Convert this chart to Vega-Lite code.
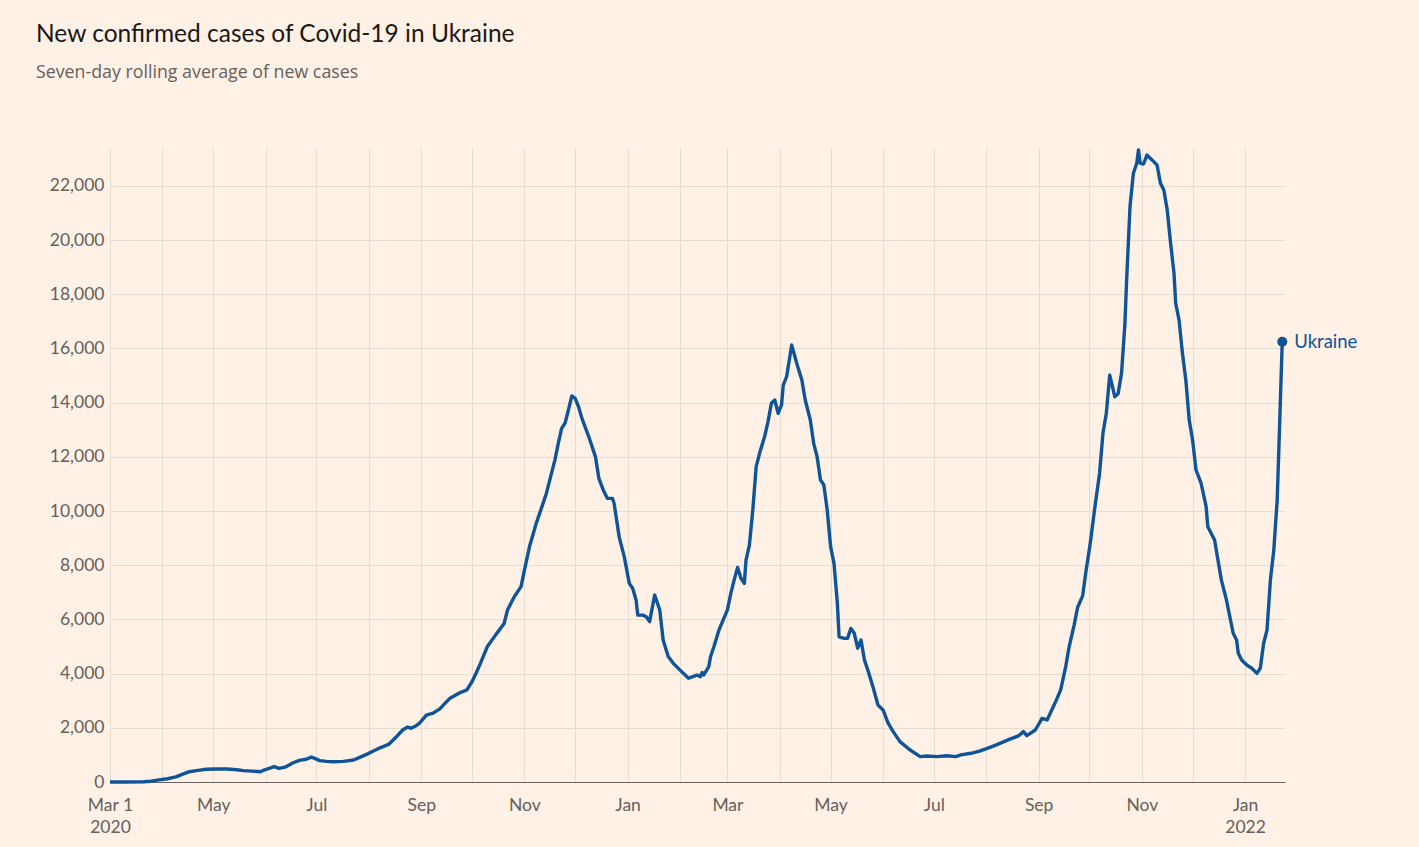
{
  "$schema": "https://vega.github.io/schema/vega-lite/v6.json",
  "width": 1175,
  "height": 634,
  "autosize": {"type": "none"},
  "padding": {"left": 110, "top": 148, "right": 134, "bottom": 65},
  "background": "#fff1e5",
  "title": {
    "text": "New confirmed cases of Covid-19 in Ukraine",
    "subtitle": "Seven-day rolling average of new cases",
    "anchor": "start",
    "frame": "group",
    "dx": -74,
    "offset": 65,
    "font": "Lato",
    "fontSize": 24.5,
    "fontWeight": "normal",
    "color": "#1a1817",
    "subtitleFont": "Open Sans",
    "subtitleFontSize": 17.8,
    "subtitleColor": "#66605c",
    "subtitlePadding": 17
  },
  "config": {
    "view": {"stroke": null},
    "font": "Lato"
  },
  "datasets": {
    "cases": [
      {"date": "2020-03-01", "cases": 0},
      {"date": "2020-03-11", "cases": 0},
      {"date": "2020-03-21", "cases": 10},
      {"date": "2020-03-25", "cases": 30},
      {"date": "2020-03-30", "cases": 80},
      {"date": "2020-04-04", "cases": 120},
      {"date": "2020-04-09", "cases": 190},
      {"date": "2020-04-13", "cases": 290},
      {"date": "2020-04-17", "cases": 380},
      {"date": "2020-04-22", "cases": 430},
      {"date": "2020-04-27", "cases": 470},
      {"date": "2020-05-03", "cases": 480},
      {"date": "2020-05-09", "cases": 480},
      {"date": "2020-05-15", "cases": 450},
      {"date": "2020-05-19", "cases": 420},
      {"date": "2020-05-24", "cases": 400},
      {"date": "2020-05-29", "cases": 380},
      {"date": "2020-05-31", "cases": 440},
      {"date": "2020-06-04", "cases": 520},
      {"date": "2020-06-06", "cases": 570},
      {"date": "2020-06-09", "cases": 500},
      {"date": "2020-06-13", "cases": 560},
      {"date": "2020-06-17", "cases": 700},
      {"date": "2020-06-21", "cases": 800},
      {"date": "2020-06-25", "cases": 840},
      {"date": "2020-06-28", "cases": 920},
      {"date": "2020-06-30", "cases": 870},
      {"date": "2020-07-03", "cases": 790},
      {"date": "2020-07-07", "cases": 760},
      {"date": "2020-07-11", "cases": 750},
      {"date": "2020-07-17", "cases": 760},
      {"date": "2020-07-23", "cases": 810},
      {"date": "2020-07-27", "cases": 920},
      {"date": "2020-07-31", "cases": 1030},
      {"date": "2020-08-04", "cases": 1150},
      {"date": "2020-08-08", "cases": 1270},
      {"date": "2020-08-13", "cases": 1400},
      {"date": "2020-08-17", "cases": 1650},
      {"date": "2020-08-21", "cases": 1920},
      {"date": "2020-08-24", "cases": 2030},
      {"date": "2020-08-26", "cases": 1980},
      {"date": "2020-08-29", "cases": 2080},
      {"date": "2020-08-31", "cases": 2170},
      {"date": "2020-09-04", "cases": 2470},
      {"date": "2020-09-08", "cases": 2540},
      {"date": "2020-09-12", "cases": 2700},
      {"date": "2020-09-15", "cases": 2900},
      {"date": "2020-09-18", "cases": 3090},
      {"date": "2020-09-23", "cases": 3270},
      {"date": "2020-09-28", "cases": 3400},
      {"date": "2020-10-01", "cases": 3700},
      {"date": "2020-10-04", "cases": 4100},
      {"date": "2020-10-06", "cases": 4380},
      {"date": "2020-10-10", "cases": 4990},
      {"date": "2020-10-15", "cases": 5430},
      {"date": "2020-10-20", "cases": 5850},
      {"date": "2020-10-22", "cases": 6350},
      {"date": "2020-10-26", "cases": 6840},
      {"date": "2020-10-30", "cases": 7210},
      {"date": "2020-11-01", "cases": 7820},
      {"date": "2020-11-04", "cases": 8690},
      {"date": "2020-11-08", "cases": 9550},
      {"date": "2020-11-11", "cases": 10100},
      {"date": "2020-11-14", "cases": 10660},
      {"date": "2020-11-16", "cases": 11150},
      {"date": "2020-11-19", "cases": 11880},
      {"date": "2020-11-21", "cases": 12500},
      {"date": "2020-11-23", "cases": 13050},
      {"date": "2020-11-25", "cases": 13240},
      {"date": "2020-11-27", "cases": 13730},
      {"date": "2020-11-29", "cases": 14250},
      {"date": "2020-12-01", "cases": 14160},
      {"date": "2020-12-03", "cases": 13850},
      {"date": "2020-12-05", "cases": 13420},
      {"date": "2020-12-09", "cases": 12750},
      {"date": "2020-12-13", "cases": 12000},
      {"date": "2020-12-15", "cases": 11210},
      {"date": "2020-12-18", "cases": 10720},
      {"date": "2020-12-20", "cases": 10470},
      {"date": "2020-12-23", "cases": 10470},
      {"date": "2020-12-24", "cases": 10290},
      {"date": "2020-12-27", "cases": 9050},
      {"date": "2020-12-30", "cases": 8320},
      {"date": "2021-01-02", "cases": 7330},
      {"date": "2021-01-04", "cases": 7150},
      {"date": "2021-01-06", "cases": 6720},
      {"date": "2021-01-07", "cases": 6160},
      {"date": "2021-01-10", "cases": 6160},
      {"date": "2021-01-12", "cases": 6100},
      {"date": "2021-01-14", "cases": 5920},
      {"date": "2021-01-17", "cases": 6900},
      {"date": "2021-01-20", "cases": 6350},
      {"date": "2021-01-22", "cases": 5240},
      {"date": "2021-01-25", "cases": 4630},
      {"date": "2021-01-28", "cases": 4380},
      {"date": "2021-02-01", "cases": 4130},
      {"date": "2021-02-06", "cases": 3830},
      {"date": "2021-02-09", "cases": 3900},
      {"date": "2021-02-11", "cases": 3950},
      {"date": "2021-02-13", "cases": 3890},
      {"date": "2021-02-14", "cases": 4040},
      {"date": "2021-02-15", "cases": 3950},
      {"date": "2021-02-18", "cases": 4260},
      {"date": "2021-02-19", "cases": 4620},
      {"date": "2021-02-21", "cases": 4990},
      {"date": "2021-02-24", "cases": 5610},
      {"date": "2021-03-01", "cases": 6350},
      {"date": "2021-03-03", "cases": 6960},
      {"date": "2021-03-05", "cases": 7460},
      {"date": "2021-03-07", "cases": 7920},
      {"date": "2021-03-09", "cases": 7520},
      {"date": "2021-03-11", "cases": 7330},
      {"date": "2021-03-12", "cases": 8190},
      {"date": "2021-03-14", "cases": 8750},
      {"date": "2021-03-16", "cases": 10040},
      {"date": "2021-03-18", "cases": 11640},
      {"date": "2021-03-20", "cases": 12130},
      {"date": "2021-03-23", "cases": 12750},
      {"date": "2021-03-25", "cases": 13300},
      {"date": "2021-03-27", "cases": 13980},
      {"date": "2021-03-29", "cases": 14100},
      {"date": "2021-03-31", "cases": 13610},
      {"date": "2021-04-02", "cases": 13920},
      {"date": "2021-04-03", "cases": 14650},
      {"date": "2021-04-05", "cases": 14960},
      {"date": "2021-04-08", "cases": 16130},
      {"date": "2021-04-11", "cases": 15450},
      {"date": "2021-04-14", "cases": 14840},
      {"date": "2021-04-16", "cases": 14100},
      {"date": "2021-04-19", "cases": 13360},
      {"date": "2021-04-21", "cases": 12500},
      {"date": "2021-04-23", "cases": 12010},
      {"date": "2021-04-25", "cases": 11150},
      {"date": "2021-04-27", "cases": 10960},
      {"date": "2021-04-29", "cases": 10040},
      {"date": "2021-05-01", "cases": 8690},
      {"date": "2021-05-03", "cases": 8070},
      {"date": "2021-05-05", "cases": 6600},
      {"date": "2021-05-06", "cases": 5360},
      {"date": "2021-05-09", "cases": 5300},
      {"date": "2021-05-11", "cases": 5300},
      {"date": "2021-05-13", "cases": 5670},
      {"date": "2021-05-15", "cases": 5490},
      {"date": "2021-05-17", "cases": 4940},
      {"date": "2021-05-19", "cases": 5240},
      {"date": "2021-05-21", "cases": 4500},
      {"date": "2021-05-23", "cases": 4130},
      {"date": "2021-05-26", "cases": 3520},
      {"date": "2021-05-29", "cases": 2840},
      {"date": "2021-06-01", "cases": 2660},
      {"date": "2021-06-04", "cases": 2170},
      {"date": "2021-06-07", "cases": 1860},
      {"date": "2021-06-11", "cases": 1490},
      {"date": "2021-06-17", "cases": 1180},
      {"date": "2021-06-23", "cases": 935},
      {"date": "2021-06-27", "cases": 960},
      {"date": "2021-07-03", "cases": 935},
      {"date": "2021-07-09", "cases": 970},
      {"date": "2021-07-14", "cases": 935},
      {"date": "2021-07-17", "cases": 1000},
      {"date": "2021-07-23", "cases": 1060},
      {"date": "2021-07-28", "cases": 1140},
      {"date": "2021-08-02", "cases": 1250},
      {"date": "2021-08-07", "cases": 1370},
      {"date": "2021-08-15", "cases": 1580},
      {"date": "2021-08-20", "cases": 1700},
      {"date": "2021-08-23", "cases": 1860},
      {"date": "2021-08-25", "cases": 1710},
      {"date": "2021-08-30", "cases": 1920},
      {"date": "2021-09-03", "cases": 2350},
      {"date": "2021-09-06", "cases": 2290},
      {"date": "2021-09-11", "cases": 2960},
      {"date": "2021-09-14", "cases": 3400},
      {"date": "2021-09-17", "cases": 4260},
      {"date": "2021-09-19", "cases": 4990},
      {"date": "2021-09-22", "cases": 5800},
      {"date": "2021-09-24", "cases": 6440},
      {"date": "2021-09-27", "cases": 6870},
      {"date": "2021-09-29", "cases": 7800},
      {"date": "2021-10-01", "cases": 8600},
      {"date": "2021-10-02", "cases": 9050},
      {"date": "2021-10-04", "cases": 10040},
      {"date": "2021-10-07", "cases": 11390},
      {"date": "2021-10-09", "cases": 12870},
      {"date": "2021-10-11", "cases": 13610},
      {"date": "2021-10-13", "cases": 15020},
      {"date": "2021-10-16", "cases": 14220},
      {"date": "2021-10-18", "cases": 14340},
      {"date": "2021-10-20", "cases": 15090},
      {"date": "2021-10-22", "cases": 16930},
      {"date": "2021-10-23", "cases": 18530},
      {"date": "2021-10-25", "cases": 21240},
      {"date": "2021-10-27", "cases": 22470},
      {"date": "2021-10-29", "cases": 22840},
      {"date": "2021-10-30", "cases": 23330},
      {"date": "2021-10-31", "cases": 22840},
      {"date": "2021-11-02", "cases": 22810},
      {"date": "2021-11-04", "cases": 23140},
      {"date": "2021-11-07", "cases": 22960},
      {"date": "2021-11-10", "cases": 22770},
      {"date": "2021-11-12", "cases": 22100},
      {"date": "2021-11-14", "cases": 21850},
      {"date": "2021-11-16", "cases": 21110},
      {"date": "2021-11-18", "cases": 19880},
      {"date": "2021-11-20", "cases": 18780},
      {"date": "2021-11-21", "cases": 17670},
      {"date": "2021-11-23", "cases": 17050},
      {"date": "2021-11-25", "cases": 15820},
      {"date": "2021-11-27", "cases": 14840},
      {"date": "2021-11-29", "cases": 13360},
      {"date": "2021-12-01", "cases": 12620},
      {"date": "2021-12-03", "cases": 11520},
      {"date": "2021-12-06", "cases": 11030},
      {"date": "2021-12-09", "cases": 10160},
      {"date": "2021-12-10", "cases": 9420},
      {"date": "2021-12-14", "cases": 8930},
      {"date": "2021-12-16", "cases": 8190},
      {"date": "2021-12-18", "cases": 7460},
      {"date": "2021-12-21", "cases": 6720},
      {"date": "2021-12-23", "cases": 6100},
      {"date": "2021-12-25", "cases": 5490},
      {"date": "2021-12-27", "cases": 5240},
      {"date": "2021-12-28", "cases": 4750},
      {"date": "2021-12-30", "cases": 4500},
      {"date": "2022-01-02", "cases": 4320},
      {"date": "2022-01-05", "cases": 4200},
      {"date": "2022-01-08", "cases": 4010},
      {"date": "2022-01-10", "cases": 4200},
      {"date": "2022-01-12", "cases": 5120},
      {"date": "2022-01-14", "cases": 5610},
      {"date": "2022-01-16", "cases": 7460},
      {"date": "2022-01-18", "cases": 8560},
      {"date": "2022-01-20", "cases": 10400},
      {"date": "2022-01-21", "cases": 12300},
      {"date": "2022-01-22", "cases": 14300},
      {"date": "2022-01-23", "cases": 16250}
    ],
    "last": [
      {"date": "2022-01-23", "cases": 16250, "country": "Ukraine"}
    ]
  },
  "encoding": {
    "x": {
      "field": "date",
      "type": "temporal",
      "title": null,
      "scale": {
        "type": "utc",
        "domain": [
          {"year": 2020, "month": 3, "date": 1, "utc": true},
          {"year": 2022, "month": 1, "date": 24, "hours": 15, "utc": true}
        ]
      },
      "axis": {
        "values": [
          {"year": 2020, "month": 3, "date": 1, "utc": true},
          {"year": 2020, "month": 4, "date": 1, "utc": true},
          {"year": 2020, "month": 5, "date": 1, "utc": true},
          {"year": 2020, "month": 6, "date": 1, "utc": true},
          {"year": 2020, "month": 7, "date": 1, "utc": true},
          {"year": 2020, "month": 8, "date": 1, "utc": true},
          {"year": 2020, "month": 9, "date": 1, "utc": true},
          {"year": 2020, "month": 10, "date": 1, "utc": true},
          {"year": 2020, "month": 11, "date": 1, "utc": true},
          {"year": 2020, "month": 12, "date": 1, "utc": true},
          {"year": 2021, "month": 1, "date": 1, "utc": true},
          {"year": 2021, "month": 2, "date": 1, "utc": true},
          {"year": 2021, "month": 3, "date": 1, "utc": true},
          {"year": 2021, "month": 4, "date": 1, "utc": true},
          {"year": 2021, "month": 5, "date": 1, "utc": true},
          {"year": 2021, "month": 6, "date": 1, "utc": true},
          {"year": 2021, "month": 7, "date": 1, "utc": true},
          {"year": 2021, "month": 8, "date": 1, "utc": true},
          {"year": 2021, "month": 9, "date": 1, "utc": true},
          {"year": 2021, "month": 10, "date": 1, "utc": true},
          {"year": 2021, "month": 11, "date": 1, "utc": true},
          {"year": 2021, "month": 12, "date": 1, "utc": true},
          {"year": 2022, "month": 1, "date": 1, "utc": true}
        ],
        "labelExpr": "utcyear(datum.value) == 2020 && utcmonth(datum.value) == 2 ? ['Mar 1', '2020'] : (utcyear(datum.value) == 2022 && utcmonth(datum.value) == 0 ? ['Jan', '2022'] : (utcmonth(datum.value) % 2 == 0 ? utcFormat(datum.value, '%b') : ''))",
        "grid": true,
        "gridColor": "#e9ddd2",
        "gridWidth": 1,
        "ticks": false,
        "domain": true,
        "domainColor": "#6b645f",
        "domainWidth": 1,
        "labelFont": "Lato",
        "labelFontSize": 17.5,
        "labelColor": "#66605c",
        "labelPadding": 14,
        "labelLineHeight": 22,
        "labelOverlap": false,
        "labelFlush": false,
        "labelBound": false
      }
    },
    "y": {
      "field": "cases",
      "type": "quantitative",
      "title": null,
      "scale": {"domain": [0, 23400], "nice": false, "zero": true},
      "axis": {
        "values": [0, 2000, 4000, 6000, 8000, 10000, 12000, 14000, 16000, 18000, 20000, 22000],
        "format": ",d",
        "grid": true,
        "gridColor": "#e9ddd2",
        "gridWidth": 1,
        "ticks": false,
        "domain": false,
        "labelFont": "Lato",
        "labelFontSize": 17.5,
        "labelColor": "#66605c",
        "labelPadding": 6
      }
    }
  },
  "layer": [
    {
      "data": {"name": "cases"},
      "mark": {"type": "line", "color": "#0f5499", "strokeWidth": 3.4, "strokeJoin": "round"}
    },
    {
      "data": {"name": "last"},
      "mark": {"type": "point", "filled": true, "size": 100, "color": "#0f5499", "opacity": 1}
    },
    {
      "data": {"name": "last"},
      "mark": {"type": "text", "align": "left", "baseline": "middle", "dx": 12, "fontSize": 18.5, "font": "Lato", "color": "#0f5499"},
      "encoding": {"text": {"field": "country"}}
    }
  ]
}
